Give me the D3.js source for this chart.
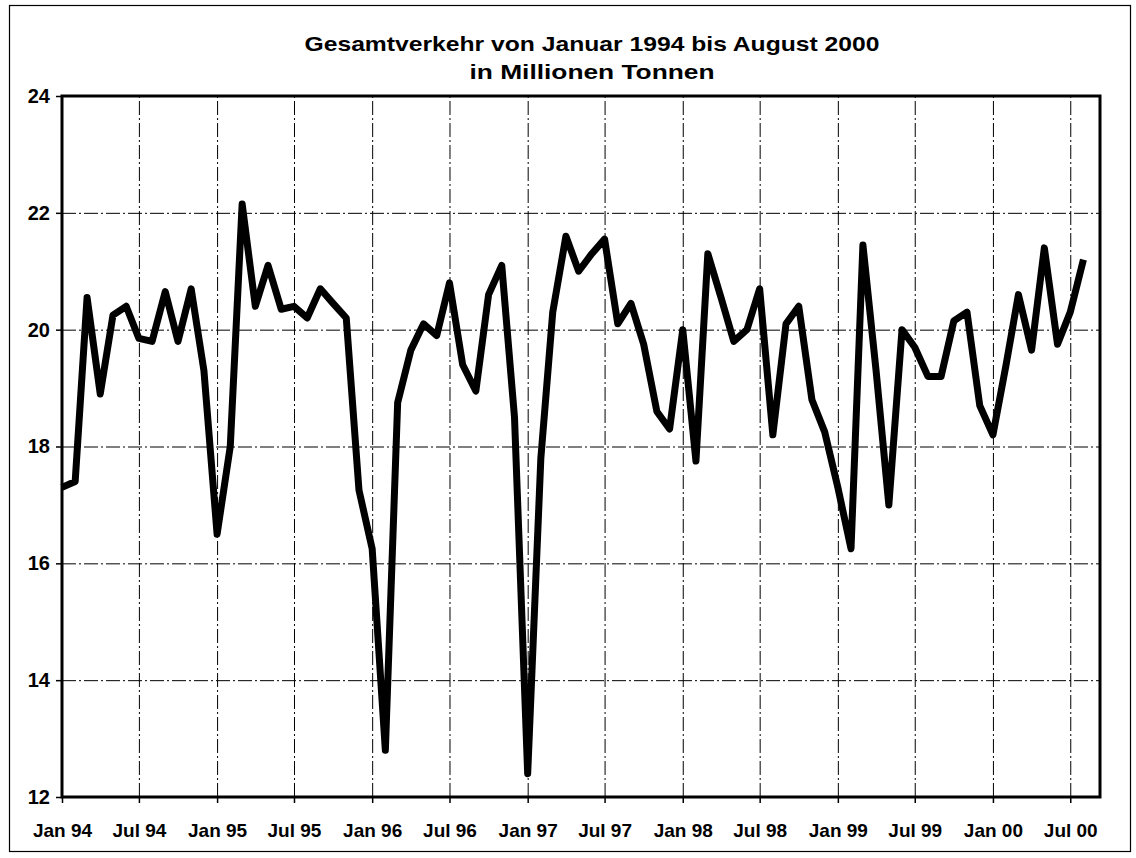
<!DOCTYPE html>
<html>
<head>
<meta charset="utf-8">
<script src="https://cdn.jsdelivr.net/npm/d3@7"></script>
<style>
  html, body { margin: 0; padding: 0; background: #fff; }
  svg { display: block; }
  text { font-family: "Liberation Sans", Arial, sans-serif; font-weight: bold; fill: #000; }
</style>
</head>
<body>
<svg id="chart" width="1136" height="858"></svg>
<script>
// ---- data ----
const titleLines = ["Gesamtverkehr von Januar 1994 bis August 2000", "in Millionen Tonnen"];
const startMonth = new Date(1994, 0, 1);
const endMonth = new Date(2000, 8, 1); // exclusive -> Jan 94 .. Aug 00
const values = [
  17.3, 17.4, 20.55, 18.9, 20.25, 20.4, 19.85, 19.8, 20.65, 19.8, 20.7, 19.3,
  16.5, 18.0, 22.15, 20.4, 21.1, 20.35, 20.4, 20.2, 20.7, 20.45, 20.2, 17.25,
  16.25, 12.8, 18.75, 19.65, 20.1, 19.9, 20.8, 19.4, 18.95, 20.6, 21.1, 18.5,
  12.4, 17.8, 20.3, 21.6, 21.0, 21.3, 21.55, 20.1, 20.45, 19.75, 18.6, 18.3,
  20.0, 17.75, 21.3, 20.55, 19.8, 20.0, 20.7, 18.2, 20.1, 20.4, 18.8, 18.25,
  17.3, 16.25, 21.45, 19.3, 17.0, 20.0, 19.7, 19.2, 19.2, 20.15, 20.3, 18.7,
  18.2, 19.4, 20.6, 19.65, 21.4, 19.75, 20.3, 21.2
];
const xTickLabels = ["Jan 94","Jul 94","Jan 95","Jul 95","Jan 96","Jul 96","Jan 97",
                     "Jul 97","Jan 98","Jul 98","Jan 99","Jul 99","Jan 00","Jul 00"];
const yTicks = [12, 14, 16, 18, 20, 22, 24];

// ---- layout ----
const svg = d3.select("#chart");
const L = 62, R = 1100, T = 96, B = 797;

const months = d3.timeMonth.range(startMonth, endMonth);
const data = months.map((d, i) => ({ date: d, value: values[i] }));
const xTickDates = d3.timeMonth.every(6).range(startMonth, endMonth);

const x = d3.scaleTime()
  .domain([startMonth, new Date(2000, 8, 9)])
  .range([L, R]);
const y = d3.scaleLinear().domain([12, 24]).range([B, T]);

// outer frame
svg.append("rect")
  .attr("x", 9.5).attr("y", 5.5).attr("width", 1121).attr("height", 846)
  .attr("fill", "none").attr("stroke", "#000").attr("stroke-width", 1.2);

// title
svg.append("text").attr("x", 592).attr("y", 51).attr("text-anchor", "middle")
  .attr("textLength", 575).attr("lengthAdjust", "spacingAndGlyphs")
  .style("font-size", "21px").text(titleLines[0]);
svg.append("text").attr("x", 592).attr("y", 79).attr("text-anchor", "middle")
  .attr("textLength", 245).attr("lengthAdjust", "spacingAndGlyphs")
  .style("font-size", "21px").text(titleLines[1]);

// grid lines
const gridY = svg.append("g").attr("transform", `translate(${L},0)`)
  .call(d3.axisLeft(y).tickValues(yTicks.slice(1, -1)).tickSize(-(R - L)).tickFormat(""));
gridY.select(".domain").remove();
gridY.selectAll("line").attr("stroke", "#000").attr("stroke-width", 1)
  .attr("stroke-dasharray", "14,3,2,3");

const gridX = svg.append("g").attr("transform", `translate(0,${B})`)
  .call(d3.axisBottom(x).tickValues(xTickDates.slice(1)).tickSize(-(B - T)).tickFormat(""));
gridX.select(".domain").remove();
gridX.selectAll("line").attr("stroke", "#000").attr("stroke-width", 1)
  .attr("stroke-dasharray", "14,3,2,3");

// axes with labels
const yAxis = svg.append("g").attr("transform", `translate(${L},0)`)
  .call(d3.axisLeft(y).tickValues(yTicks).tickSize(6).tickPadding(6).tickFormat(d3.format("d")));
yAxis.select(".domain").remove();
yAxis.selectAll("line").attr("stroke", "#000").attr("stroke-width", 1.5);
yAxis.selectAll("text").style("font-size", "20px").attr("font-family", null);

const xAxis = svg.append("g").attr("transform", `translate(0,${B})`)
  .call(d3.axisBottom(x).tickValues(xTickDates).tickSize(6).tickPadding(21)
    .tickFormat((d, i) => xTickLabels[i]));
xAxis.select(".domain").remove();
xAxis.selectAll("line").attr("stroke", "#000").attr("stroke-width", 1.5);
xAxis.selectAll("text").style("font-size", "19px").attr("font-family", null);

// plot area border
svg.append("rect")
  .attr("x", L).attr("y", T).attr("width", R - L).attr("height", B - T)
  .attr("fill", "none").attr("stroke", "#000").attr("stroke-width", 3);

// series line
const line = d3.line().x(d => x(d.date)).y(d => y(d.value));
svg.append("path").datum(data)
  .attr("d", line)
  .attr("fill", "none").attr("stroke", "#000").attr("stroke-width", 7)
  .attr("stroke-linejoin", "round").attr("stroke-linecap", "butt");
</script>
</body>
</html>
